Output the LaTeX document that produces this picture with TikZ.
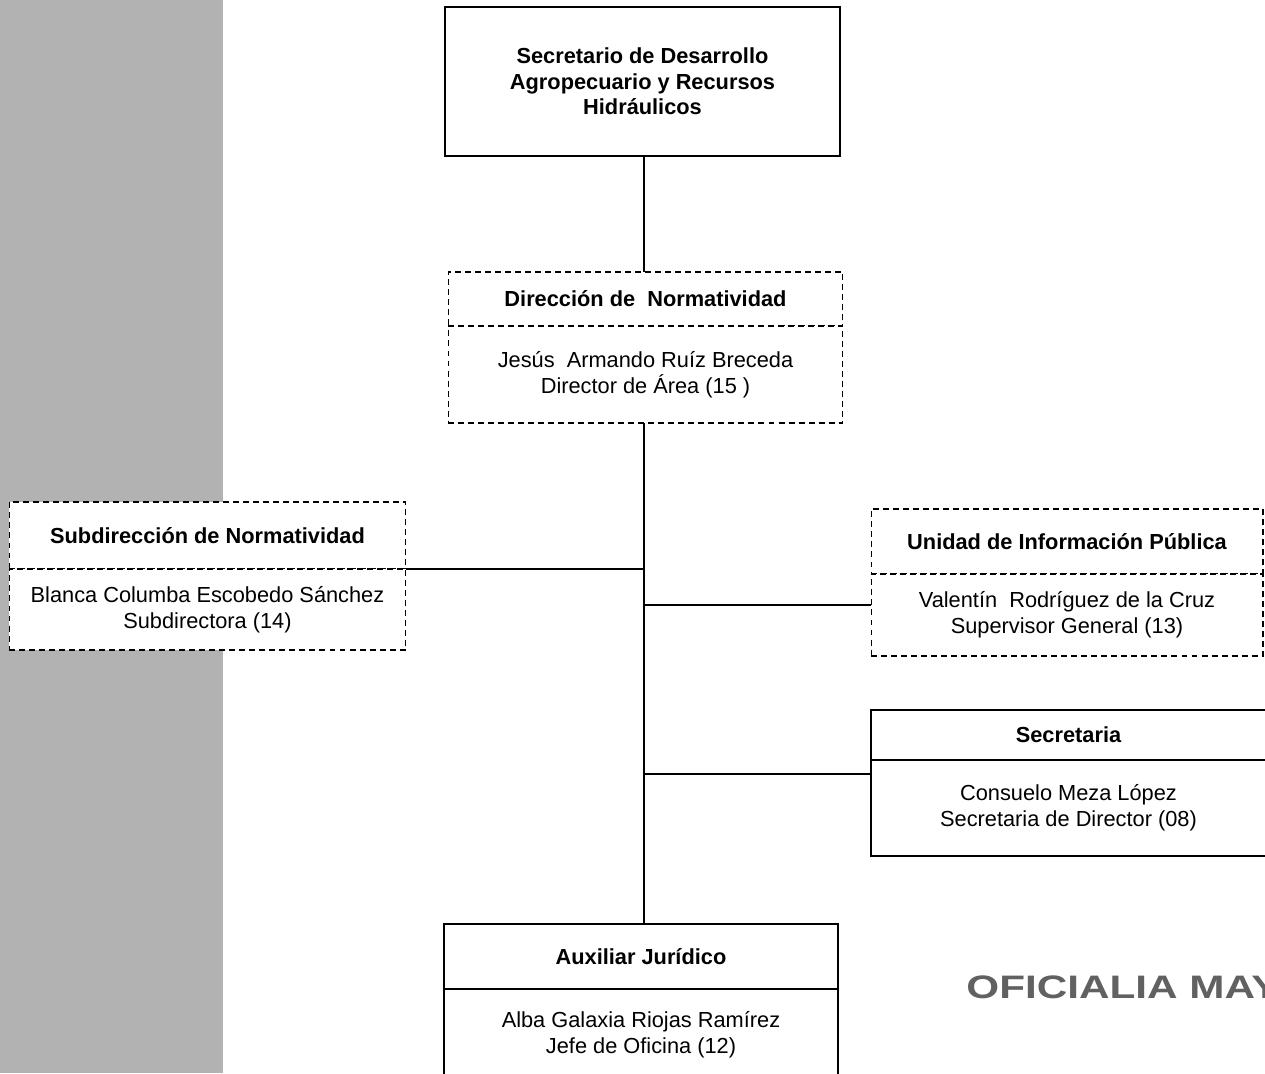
\documentclass[tikz,border=0pt]{standalone}
\usepackage{fontspec}
\setmainfont{Liberation Sans}
\usetikzlibrary{positioning}
\begin{document}
\begin{tikzpicture}[x=0.02cm, y=-0.02cm,
    font=\fontsize{12.4}{14.6}\selectfont,
    cargo/.style ={rectangle, draw, line width=0.8pt, fill=white, align=center, minimum width=7.9cm, inner sep=0pt, outer sep=0pt},
    punteado/.style ={rectangle, draw, line width=0.6pt, dash pattern=on 3.4pt off 2.3pt, fill=white, align=center, minimum width=7.9cm, inner sep=0pt, outer sep=0pt},
    titulo/.style ={font=\fontsize{12.4}{14.6}\selectfont\bfseries}]
   \clip (0,0) rectangle (1265,1073);
   \fill[black!30] (0,0) rectangle (223,1073);

   \node[cargo, titulo, minimum height=2.98cm] (sec) at (642.5,81.5) {Secretario de Desarrollo\\Agropecuario y Recursos\\Hidráulicos};

   \node[punteado, titulo, minimum height=1.08cm] (dirT) at (645.5,299) {Dirección de\ \ Normatividad};
   \node[punteado, minimum height=1.94cm, below=0pt of dirT] (dirB) {Jesús\ \ Armando Ruíz Breceda\\Director de Área (15 )};

   \node[punteado, titulo, minimum width=7.94cm, minimum height=1.34cm] (subT) at (207.5,535.5) {Subdirección de Normatividad};
   \node[punteado, minimum width=7.94cm, minimum height=1.62cm, below=0pt of subT] (subB) {Blanca Columba Escobedo Sánchez\\Subdirectora (14)};

   \node[punteado, titulo, minimum width=7.84cm, minimum height=1.3cm] (uniT) at (1067,541.5) {Unidad de Información Pública};
   \node[punteado, minimum width=7.84cm, minimum height=1.64cm, below=0pt of uniT] (uniB) {Valentín\ \ Rodríguez de la Cruz\\Supervisor General (13)};

   \node[cargo, titulo, minimum height=1.0cm] (scrT) at (1068.5,735) {Secretaria};
   \node[cargo, minimum height=1.92cm, below=0pt of scrT] (scrB) {Consuelo Meza López\\Secretaria de Director (08)};

   \node[cargo, titulo, minimum width=7.88cm, minimum height=1.3cm] (auxT) at (641,956.5) {Auxiliar Jurídico};
   \node[cargo, minimum width=7.88cm, minimum height=1.82cm, below=0pt of auxT] (auxB) {Alba Galaxia Riojas Ramírez\\Jefe de Oficina (12)};

   % sello
   \node[anchor=base west, text=black!62, font=\fontsize{18.5}{20}\selectfont\bfseries, xscale=1.3, inner sep=0pt] (sello) at (966,998) {OFICIALIA MAY};

   % lineas
   \coordinate (eje) at (644,423);
   \draw[line width=0.8pt] (sec.south -| eje) -- (dirT.north -| eje);
   \draw[line width=0.8pt] (eje) -- (auxT.north -| eje);
   \draw[line width=0.8pt] (subT.south east) -- (subT.south east -| eje);
   \draw[line width=0.8pt] ([yshift=0.2cm]uniB.west) -- ([yshift=0.2cm]uniB.west -| eje);
   \draw[line width=0.8pt] ([yshift=-0.28cm]scrT.south west) -- ([yshift=-0.28cm]scrT.south west -| eje);
\end{tikzpicture}
\end{document}
